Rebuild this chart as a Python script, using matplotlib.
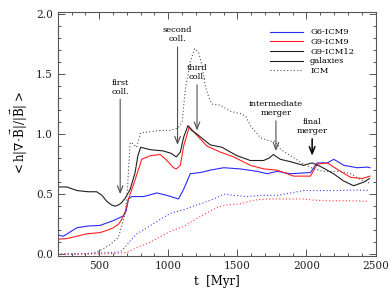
import numpy as np
import matplotlib
matplotlib.use("Agg")
import matplotlib.pyplot as plt
from matplotlib.lines import Line2D

plt.rcParams['font.family'] = ['DejaVu Serif']
plt.rcParams['mathtext.fontset'] = 'dejavuserif'

# G6-ICM9 galaxies (blue solid)
t_g6 = [200, 241, 338, 420, 507, 603, 676, 695, 712, 736, 821, 918, 990, 1074, 1111, 1159, 1232,
        1304, 1401, 1522, 1643, 1715, 1788, 1884, 1957, 2029, 2077, 2150, 2198, 2270, 2367, 2440, 2460]
v_g6 = [0.16, 0.15, 0.22, 0.235, 0.24, 0.28, 0.32, 0.36, 0.46, 0.48, 0.48, 0.51, 0.49, 0.46, 0.54, 0.67, 0.68,
        0.70, 0.72, 0.71, 0.69, 0.67, 0.69, 0.67, 0.675, 0.68, 0.76, 0.76, 0.79, 0.74, 0.72, 0.725, 0.72]

# G9-ICM9 galaxies (red solid)
t_g9 = [200, 265, 340, 410, 507, 560, 602, 640, 663, 690, 712, 760, 808, 869, 942, 990, 1038, 1058,
        1087, 1111, 1152, 1207, 1280, 1377, 1473, 1594, 1691, 1787, 1908, 2029, 2077, 2150, 2246,
        2319, 2404, 2459]
v_g9 = [0.125, 0.13, 0.15, 0.17, 0.18, 0.20, 0.22, 0.25, 0.29, 0.36, 0.46, 0.62, 0.79, 0.82, 0.83, 0.78, 0.72, 0.71,
        0.74, 0.90, 1.06, 0.99, 0.90, 0.85, 0.81, 0.74, 0.71, 0.70, 0.65, 0.65, 0.75, 0.76, 0.69,
        0.64, 0.63, 0.65]

# G9-ICM12 galaxies (black solid)
t_g12 = [200, 265, 340, 420, 482, 520, 555, 590, 615, 640, 663, 690, 724, 760, 780, 800, 870, 963, 1020,
         1058, 1087, 1110, 1142, 1170, 1207, 1250, 1304, 1389, 1450, 1498, 1594, 1689, 1730, 1760,
         1811, 1884, 1978, 2041, 2102, 2196, 2268, 2341, 2414, 2457]
v_g12 = [0.56, 0.56, 0.53, 0.52, 0.52, 0.49, 0.44, 0.41, 0.40, 0.41, 0.43, 0.47, 0.54, 0.68, 0.82, 0.89, 0.87, 0.86, 0.84,
         0.81, 0.85, 0.97, 1.07, 1.03, 1.00, 0.96, 0.91, 0.89, 0.85, 0.82, 0.78, 0.78, 0.80, 0.83,
         0.79, 0.77, 0.74, 0.76, 0.73, 0.67, 0.61, 0.57, 0.60, 0.63]

# ICM curves (dotted)
t_i12 = [200, 300, 400, 458, 507, 579, 639, 664, 690, 705, 715, 725, 746, 770, 800, 870, 940, 1010, 1070,
         1100, 1123, 1159, 1190, 1220, 1244, 1268, 1292, 1316, 1377, 1449, 1522, 1560, 1594, 1667,
         1739, 1775, 1811, 1884, 1981, 2053, 2126, 2246, 2319, 2392, 2459]
v_i12 = [0.0, 0.0, 0.005, 0.01, 0.03, 0.08, 0.14, 0.24, 0.35, 0.55, 0.76, 0.93, 0.92, 0.89, 1.01, 1.02, 1.03, 1.03, 1.05,
         1.10, 1.37, 1.60, 1.71, 1.68, 1.57, 1.40, 1.31, 1.25, 1.24, 1.19, 1.17, 1.15, 1.07, 0.97,
         0.94, 0.94, 0.875, 0.82, 0.75, 0.71, 0.69, 0.69, 0.67, 0.62, 0.59]

t_i6 = [200, 300, 400, 500, 600, 652, 688, 724, 772, 845, 942, 1014, 1111, 1232, 1328, 1401, 1473,
        1570, 1667, 1787, 1884, 1981, 2077, 2222, 2367, 2452]
v_i6 = [0.0, 0.005, 0.005, 0.01, 0.015, 0.02, 0.06, 0.11, 0.17, 0.22, 0.29, 0.34, 0.37, 0.42, 0.46, 0.50, 0.49,
        0.48, 0.49, 0.49, 0.51, 0.53, 0.53, 0.53, 0.535, 0.53]

t_i9 = [200, 400, 600, 700, 772, 869, 966, 1014, 1111, 1183, 1256, 1353, 1425, 1522, 1618, 1715,
        1836, 1981, 2053, 2174, 2319, 2452]
v_i9 = [0.0, 0.0, 0.005, 0.015, 0.055, 0.10, 0.16, 0.19, 0.23, 0.28, 0.33, 0.39, 0.41, 0.42, 0.45, 0.46,
        0.46, 0.46, 0.45, 0.445, 0.445, 0.44]

# annotations: label, arrow time, arrow tip, arrow tail
events = ["first\ncoll.", "second\ncoll.", "third\ncoll.", "intermediate\nmerger", "final\nmerger"]
ev_t = [652, 1067, 1208, 1779, 2041]
ev_tip = [0.50, 0.91, 1.03, 0.86, 0.82]
ev_tail = [1.29, 1.725, 1.41, 1.11, 0.96]

fig = plt.figure(figsize=(3.9, 3.03), dpi=100)
ax = fig.add_axes([0.148, 0.155, 0.815, 0.805])

lw = 0.8
ax.plot(t_g6, v_g6, color='#2a2aff', lw=lw, label='G6-ICM9')
ax.plot(t_g9, v_g9, color='#ff2020', lw=lw, label='G9-ICM9')
ax.plot(t_g12, v_g12, color='#202020', lw=lw, label='G9-ICM12')
ax.plot(t_i12, v_i12, color='#505050', lw=lw, ls=(0, (1, 2)))
ax.plot(t_i6, v_i6, color='#4040ff', lw=lw, ls=(0, (1, 2)))
ax.plot(t_i9, v_i9, color='#ff4040', lw=lw, ls=(0, (1, 2)))

for i, lab in enumerate(events):
    col = 'black' if i == 4 else '#505050'
    ax.annotate('', xy=(ev_t[i], ev_tip[i]), xytext=(ev_t[i], ev_tail[i]),
                arrowprops=dict(arrowstyle='->,head_length=0.5,head_width=0.2', color=col,
                                lw=1.1 if i == 4 else 0.8, shrinkA=0, shrinkB=0))
    ax.text(ev_t[i], ev_tail[i] + 0.03, lab, ha='center', va='bottom', fontsize=6,
            linespacing=1.15)

handles = [Line2D([], [], color='#2a2aff', lw=lw),
           Line2D([], [], color='#ff2020', lw=lw),
           Line2D([], [], color='#202020', lw=lw),
           Line2D([], [], color='#202020', lw=lw),
           Line2D([], [], color='#505050', lw=lw, ls=(0, (1, 2)))]
labels = ['G6-ICM9', 'G9-ICM9', 'G9-ICM12', 'galaxies', 'ICM']
ax.legend(handles, labels, loc='upper left', bbox_to_anchor=(0.655, 0.95), frameon=False,
          fontsize=6, labelspacing=0.2, handlelength=4.0, handletextpad=0.8, borderpad=0)

ax.set_xlim(200, 2500)
ax.set_ylim(-0.015, 2.015)
ax.set_xticks([500, 1000, 1500, 2000, 2500])
ax.set_xticks(np.arange(200, 2501, 100), minor=True)
ax.set_yticks([0.0, 0.5, 1.0, 1.5, 2.0])
ax.set_yticklabels(['0.0', '0.5', '1.0', '1.5', '2.0'])
ax.set_yticks(np.arange(0, 2.01, 0.1), minor=True)
ax.tick_params(which='both', direction='in', top=True, right=True, labelsize=7.6, colors='#555555',
               labelcolor='#222222', width=0.7)
ax.tick_params(which='major', length=5)
ax.tick_params(which='minor', length=2.5)
for s in ax.spines.values():
    s.set_color('#555555')
    s.set_linewidth(0.8)

ax.set_xlabel('t  [Myr]', fontsize=8.5, labelpad=3)
ax.set_ylabel(r'$<\mathrm{h}|\nabla\!\cdot\!\vec{\mathrm{B}}|/|\vec{\mathrm{B}}|>$', fontsize=8.5, labelpad=4)

fig.savefig('out.png', dpi=100)
